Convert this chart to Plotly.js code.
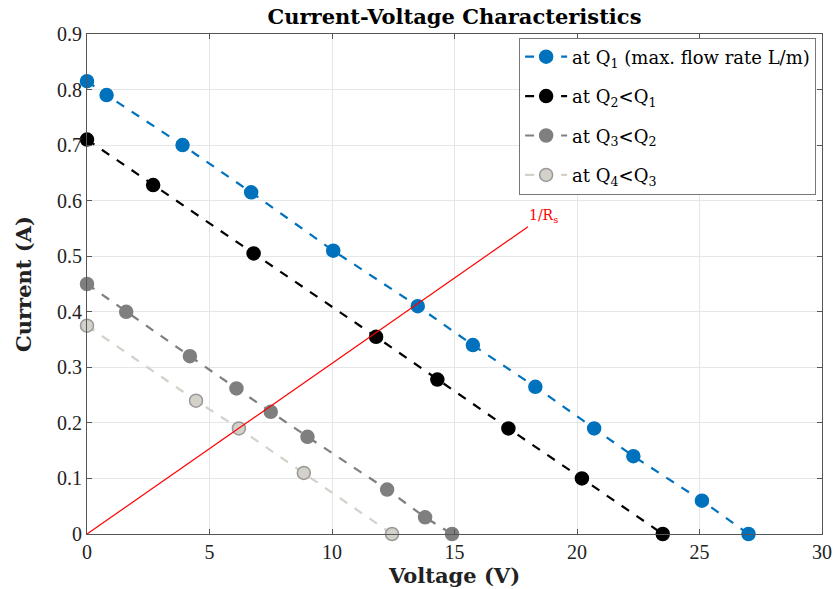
<!DOCTYPE html>
<html>
<head>
<meta charset="utf-8">
<script src="https://cdn.plot.ly/plotly-3.0.1.min.js"></script>
<style>html,body{margin:0;padding:0;background:#fff;}#chart{width:834px;height:589px;}</style>
</head>
<body>
<div id="chart"></div>
<script>
const q1V = [0, 0.8, 3.9, 6.7, 10.05, 13.5, 15.75, 18.3, 20.7, 22.3, 25.1, 27.0];
const q1I = [0.815, 0.79, 0.70, 0.615, 0.51, 0.41, 0.34, 0.265, 0.19, 0.14, 0.06, 0.0];
const q2V = [0, 2.7, 6.8, 11.8, 14.3, 17.2, 20.2, 23.5];
const q2I = [0.71, 0.628, 0.505, 0.355, 0.278, 0.19, 0.10, 0.0];
const q3V = [0, 1.6, 4.2, 6.1, 7.5, 9.0, 12.25, 13.8, 14.9];
const q3I = [0.45, 0.40, 0.32, 0.262, 0.22, 0.175, 0.08, 0.03, 0.0];
const q4V = [0, 4.45, 6.2, 8.85, 12.45];
const q4I = [0.375, 0.24, 0.19, 0.11, 0.0];
const rsV = [0, 18.0];
const rsI = [0, 0.553];
const names = ['at Q<sub>1</sub> (max. flow rate L/m)', 'at Q<sub>2</sub><Q<sub>1</sub>', 'at Q<sub>3</sub><Q<sub>2</sub>', 'at Q<sub>4</sub><Q<sub>3</sub>'];
const xTicks = [0, 5, 10, 15, 20, 25, 30];
const yTicks = [0, 0.1, 0.2, 0.3, 0.4, 0.5, 0.6, 0.7, 0.8, 0.9];
const yTickText = ['0', '0.1', '0.2', '0.3', '0.4', '0.5', '0.6', '0.7', '0.8', '0.9'];

const FONT = 'Liberation Serif, serif';
const WIDE = 'DejaVu Serif, serif';

function series(x, y, name, grp, lineColor, fill, outline) {
  return {
    x: x, y: y, name: name, legendgroup: grp, type: 'scatter', mode: 'lines+markers',
    line: {color: lineColor, width: 2.2, dash: 'dash'},
    marker: {size: 13, color: fill, line: {color: outline, width: 1.5}},
    cliponaxis: false
  };
}

const data = [
  series(q1V, q1I, names[0], 'g1', '#0072BD', '#0072BD', '#0072BD'),
  series(q2V, q2I, names[1], 'g2', '#000000', '#000000', '#000000'),
  series(q3V, q3I, names[2], 'g3', '#7f7f7f', '#7f7f7f', '#7f7f7f'),
  series(q4V, q4I, names[3], 'g4', '#d4d0ca', '#d4d0ca', '#999999'),
  {x: rsV, y: rsI, type: 'scatter', mode: 'lines', line: {color: '#ff0000', width: 1.2}, showlegend: false, hoverinfo: 'skip'}
];

const axisCommon = {
  showline: true, linecolor: '#555', linewidth: 1, mirror: 'ticks',
  ticks: 'inside', ticklen: 5, tickcolor: '#555',
  showgrid: true, gridcolor: '#e6e6e6', gridwidth: 1,
  zeroline: false,
  tickfont: {family: FONT, size: 20, color: '#222'}
};

const layout = {
  width: 834, height: 589,
  margin: {l: 87, r: 12, t: 34, b: 55},
  paper_bgcolor: '#fff', plot_bgcolor: '#fff',
  title: {text: '<b>Current-Voltage Characteristics</b>', font: {family: WIDE, size: 21, color: '#000'}, x: 0.545, xanchor: 'center', y: 0.972, yanchor: 'middle'},
  xaxis: Object.assign({}, axisCommon, {
    range: [0, 30], tickvals: xTicks, ticktext: xTicks.map(String),
    title: {text: '<b>Voltage (V)</b>', font: {family: WIDE, size: 21, color: '#222'}, standoff: 2}
  }),
  yaxis: Object.assign({}, axisCommon, {
    range: [0, 0.9], tickvals: yTicks, ticktext: yTickText,
    title: {text: '<b>Current (A)</b>', font: {family: WIDE, size: 21, color: '#222'}, standoff: 19}
  }),
  legend: {
    x: 0.992, xanchor: 'right', y: 0.993, yanchor: 'top',
    bgcolor: '#fff', bordercolor: '#777', borderwidth: 1,
    font: {family: WIDE, size: 18, color: '#000'},
    tracegroupgap: 13, itemwidth: 42
  },
  annotations: [{
    x: 18.0, y: 0.553, xref: 'x', yref: 'y', text: '1/R<sub>s</sub>', showarrow: false,
    xanchor: 'left', yanchor: 'bottom', xshift: -1, yshift: 0,
    font: {family: WIDE, size: 14, color: '#ff0000'}
  }],
  showlegend: true
};

Plotly.newPlot('chart', data, layout, {displayModeBar: false, staticPlot: true});
</script>
</body>
</html>
